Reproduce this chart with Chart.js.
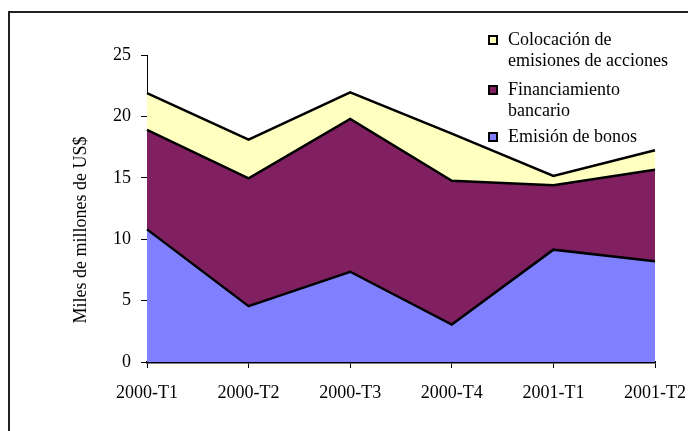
<!DOCTYPE html>
<html>
<head>
<meta charset="utf-8">
<script src="https://cdn.jsdelivr.net/npm/chart.js@4/dist/chart.umd.min.js"></script>
<style>
  html, body { margin: 0; padding: 0; background: #fff; }
  #wrap { position: relative; width: 688px; height: 431px; overflow: hidden; font-family: "Liberation Serif", "Times New Roman", serif; }
  #frame { position: absolute; left: 8px; top: 11px; width: 700px; height: 440px; border-left: 2px solid #222; border-top: 2px solid #222; box-sizing: border-box; pointer-events: none; }
  canvas { position: absolute; left: 0; top: 0; }
  .lg { position: absolute; left: 488px; font-size: 18px; line-height: 21px; color: #000; }
  .lg .box { position: absolute; left: 0; width: 10px; height: 10px; border: 2px solid #000; box-sizing: border-box; }
  .lg .txt { position: absolute; left: 20px; white-space: nowrap; }
  #ytitle { position: absolute; left: 80px; top: 230px; font-size: 18px; line-height: 21px; white-space: nowrap; color: #000; transform: translate(-50%, -50%) rotate(-90deg); }
</style>
</head>
<body>
<div id="wrap">
  <canvas id="c" width="688" height="431"></canvas>
  <div id="frame"></div>
  <div id="ytitle"></div>
  <div id="legend"></div>
</div>
<script>
const categories = ["2000-T1", "2000-T2", "2000-T3", "2000-T4", "2001-T1", "2001-T2"];
const bonos = [10.8, 4.55, 7.35, 3.05, 9.15, 8.2];
const bancario = [8.1, 10.4, 12.45, 11.7, 5.25, 7.45];
const acciones = [3.0, 3.15, 2.15, 3.85, 0.75, 1.6];
const seriesNames = ["Emisión de bonos", "Financiamiento bancario", "Colocación de emisiones de acciones"];
const legendLines = [["Emisión de bonos"], ["Financiamiento", "bancario"], ["Colocación de", "emisiones de acciones"]];
const colors = ["#8080FF", "#802060", "#FFFFC0"];
const yTitle = "Miles de millones de US$";

const font = { family: '"Liberation Serif", "Times New Roman", serif', size: 18 };

const ds = [bonos, bancario, acciones].map((d, i) => ({
  label: seriesNames[i],
  data: d,
  backgroundColor: colors[i],
  borderColor: "#000",
  borderWidth: 2.5,
  pointRadius: 0,
  tension: 0,
  fill: i === 0 ? "origin" : "-1"
}));

new Chart(document.getElementById("c"), {
  type: "line",
  data: { labels: categories, datasets: ds },
  options: {
    responsive: false,
    animation: false,
    layout: { padding: { top: 55, right: 33, bottom: 0, left: 0 } },
    plugins: { legend: { display: false }, tooltip: { enabled: false }, filler: { propagate: false } },
    scales: {
      x: {
        offset: false,
        grid: { display: true, drawOnChartArea: false, drawTicks: true, tickLength: 6, color: "#000", lineWidth: 1 },
        border: { display: true, color: "#000", width: 2.5 },
        ticks: { color: "#000", font: font, padding: 14, maxRotation: 0, autoSkip: false },
        afterFit: (s) => { s.height = 69; s.paddingLeft = 0; s.paddingRight = 0; }
      },
      y: {
        stacked: true,
        min: 0, max: 25,
        grid: { display: true, drawOnChartArea: false, drawTicks: true, tickLength: 6, color: "#000", lineWidth: 1 },
        border: { display: true, color: "#000", width: 1 },
        ticks: { stepSize: 5, color: "#000", font: font, padding: 10 },
        title: { display: false },
        afterFit: (s) => { s.width = 147; s.paddingTop = 0; s.paddingBottom = 0; }
      }
    }
  }
});

document.getElementById("ytitle").textContent = yTitle;

// Legend (reverse order, like the original)
const legendTops = [126, 79, 29];
const boxTops = [6, 6, 6];
const lg = document.getElementById("legend");
legendLines.forEach((lines, i) => {
  const item = document.createElement("div");
  item.className = "lg";
  item.style.top = legendTops[i] + "px";
  const box = document.createElement("div");
  box.className = "box";
  box.style.top = boxTops[i] + "px";
  box.style.background = colors[i];
  const txt = document.createElement("div");
  txt.className = "txt";
  txt.innerHTML = lines.join("<br>");
  item.appendChild(box);
  item.appendChild(txt);
  lg.appendChild(item);
});
</script>
</body>
</html>
